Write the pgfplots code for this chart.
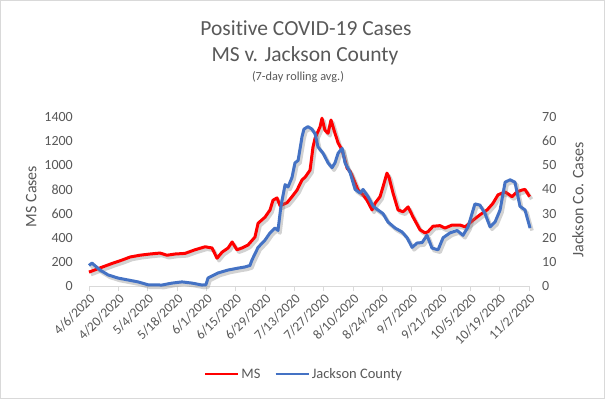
\documentclass[border=0pt]{standalone}
\usepackage{fontspec}
\setmainfont{Carlito}[Ligatures=NoCommon]
\usepackage{pgfplots}
\pgfplotsset{compat=1.18}
\usepackage{pgfplotstable}
\definecolor{txt}{HTML}{595959}
\definecolor{msred}{HTML}{FF0000}
\definecolor{jcblue}{HTML}{4472C4}
\definecolor{axl}{HTML}{D9D9D9}

\pgfplotstableread{
day ms
0 115
5.3 150
11.5 190
15.8 215
19.6 240
24.3 255
29.1 265
33.9 273
37.2 255
41.1 265
45.8 270
50.6 300
55.4 325
58.7 315
61.1 230
63.5 280
66.4 315
68.3 365
70.6 300
73.0 315
75.9 340
79.2 405
80.7 520
84.0 570
86.4 630
87.8 710
89.7 730
91.2 665
94.5 690
96.9 740
99.3 795
101.7 880
103.1 900
105.5 960
106.9 1150
107.9 1225
110.3 1320
111.2 1390
112.6 1290
114.1 1265
115.5 1375
117.4 1265
118.9 1185
120.8 1125
123.2 975
124.6 950
126.0 895
128.4 795
130.8 755
132.7 710
135.1 630
136.5 685
138.9 740
140.3 820
142.2 935
143.2 900
145.1 770
147.5 630
149.9 615
152.3 655
154.7 570
158.0 465
160.4 440
161.8 450
164.2 495
167.5 500
169.9 480
173.3 505
177.1 505
179.5 490
183.3 545
186.6 590
190.0 630
192.8 685
195.2 755
198.6 780
201.9 740
204.3 780
206.7 795
208.1 800
210.3 740
}\msdata

\pgfplotstableread{
day jc
0 8.5
1.4 9.5
5.3 6.6
9.1 4.6
13.8 3.3
18.6 2.5
23.4 1.7
28.2 0.5
34.8 0.4
39.6 1.2
44.4 1.7
49.2 1.2
53.9 0.4
55.8 0.5
56.8 3.3
61.6 5.4
66.3 6.6
71.1 7.4
74.5 7.9
76.8 8.5
77.8 10.8
80.7 16
84.0 19
86.4 22
88.8 24
90.2 23
91.6 33
93.6 42
95.0 41
96.9 45
98.3 51
99.8 52
101.7 62
102.6 65
104.5 66
106.4 65
107.9 63
109.3 57.6
111.7 55
114.1 51
116.0 49
117.4 51
118.9 55
120.8 57
122.2 51
124.6 47
127.0 40
129.4 38.5
130.8 40
133.2 37
135.6 33
137.9 31.5
140.3 30
142.7 26.5
146.1 24
149.4 22.4
151.8 20
154.2 16
156.6 17.8
159.0 18
161.3 21
163.7 15.7
166.6 15
169.0 20
172.3 22
175.7 23
178.5 21
180.9 24.5
184.2 34
186.6 33.5
189.0 30
191.4 24.5
193.8 26.5
196.2 31.5
198.6 43
201.0 44
203.3 43
205.7 33
208.1 31.5
210.5 24
}\jcdata

\begin{document}
\begin{tikzpicture}[x=1pt,y=1pt]
\useasboundingbox (0,0) rectangle (605,399);
\fill[white] (0,0) rectangle (605,399);
\draw[axl, line width=0.8pt] (0.5,0.5) rectangle (604.5,398.5);

\node[txt, font=\fontsize{21.5}{24}\selectfont] at (306,371) {Positive COVID-19 Cases};
\node[txt, font=\fontsize{21.5}{24}\selectfont] at (305,343) {MS v. Jackson County};
\node[txt, font=\fontsize{12.3}{14}\selectfont] at (298,322) {(7-day rolling avg.)};

\pgfplotsset{
  every axis/.append style={
    at={(89pt,113pt)}, anchor=south west,
    scale only axis, width=440pt, height=169pt,
    xmin=0, xmax=210, clip=false,
    /pgf/number format/assume math mode=true,
    /pgf/number format/1000 sep={},
    tick label style={txt, font=\fontsize{14}{16}\selectfont},
  }
}

\begin{axis}[
  axis x line*=bottom, axis y line*=left,
  x axis line style={axl, line width=0.8pt, -},
  y axis line style={draw=none},
  ymin=0, ymax=1400, ytick={0,200,...,1400},
  ytick style={draw=none},
  xtick={0,14,...,210},
  xticklabels={4/6/2020,4/20/2020,5/4/2020,5/18/2020,6/1/2020,6/15/2020,6/29/2020,7/13/2020,7/27/2020,8/10/2020,8/24/2020,9/7/2020,9/21/2020,10/5/2020,10/19/2020,11/2/2020},
  xtick style={axl, line width=0.8pt},
  tick align=outside, major tick length=5pt,
  xticklabel style={rotate=45, anchor=north east, inner sep=1pt, font=\fontsize{13.5}{15}\selectfont},
  yticklabel style={anchor=east, inner sep=0pt, xshift=-11pt},
  ylabel={MS Cases},
  every axis y label/.style={at={(axis description cs:-0.131,0.53)}, rotate=90, anchor=center, txt, font=\fontsize{16}{18}\selectfont},
]
\addplot[gray, opacity=0.35, line width=3.5pt, line join=round, transform canvas={xshift=2pt,yshift=-2.5pt}, forget plot] table[x=day,y=ms] {\msdata};
\addplot[msred, line width=3pt, line join=round] table[x=day,y=ms] {\msdata};
\end{axis}

\begin{axis}[
  axis x line=none, axis y line*=right,
  y axis line style={draw=none},
  ymin=0, ymax=70, ytick={0,10,...,70},
  ytick style={draw=none},
  yticklabel style={anchor=west, inner sep=0pt, xshift=13pt},
  ylabel={Jackson Co. Cases},
  every axis y label/.style={at={(axis description cs:1.111,0.51)}, rotate=90, anchor=center, txt, font=\fontsize{16}{18}\selectfont},
  legend columns=2,
  legend style={draw=none, fill=none, at={(axis description cs:0.489,-0.521)}, anchor=center,
    font=\fontsize{14.5}{16}\selectfont, text=txt, inner sep=0pt,
    /tikz/every even column/.append style={column sep=12pt}},
  legend image code/.code={\draw[#1, line width=2.2pt] (0pt,0pt) -- (33pt,0pt);},
]
\addlegendimage{msred}
\addlegendentry{MS}
\addplot[gray, opacity=0.35, line width=3.5pt, line join=round, transform canvas={xshift=2pt,yshift=-2.5pt}, forget plot] table[x=day,y=jc] {\jcdata};
\addplot[jcblue, line width=3pt, line join=round] table[x=day,y=jc] {\jcdata};
\addlegendentry{Jackson County}
\end{axis}
\end{tikzpicture}
\end{document}
